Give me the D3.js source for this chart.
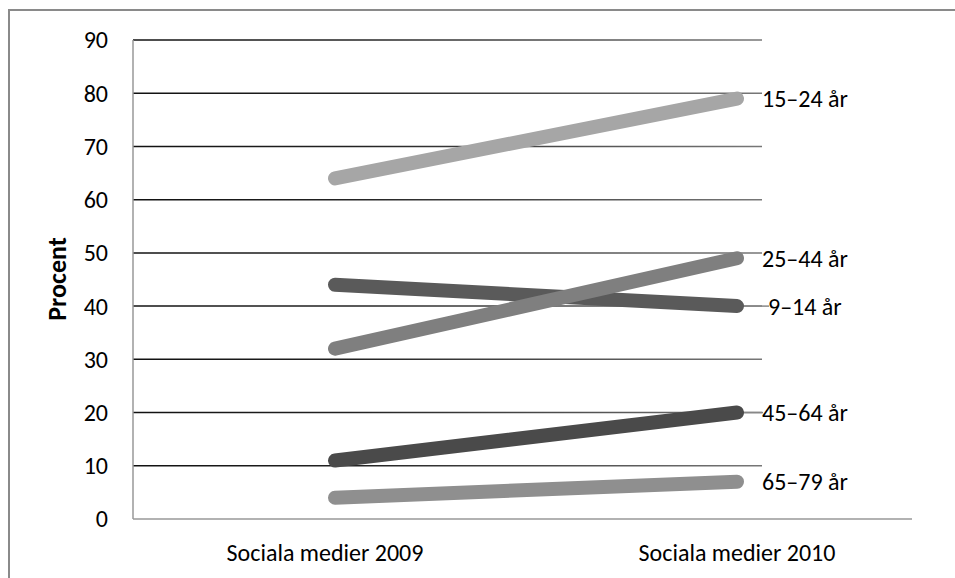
<!DOCTYPE html>
<html><head><meta charset="utf-8">
<script src="https://cdn.jsdelivr.net/npm/d3@7"></script>
<style>body{margin:0;background:#fff;}svg{display:block;font-family:Carlito,Lato,"Liberation Sans",sans-serif;}</style>
</head><body>
<svg id="c" width="955" height="578"></svg>
<script>
const categories = ["Sociala medier 2009", "Sociala medier 2010"];
const seriesNames = ["9–14 år", "15–24 år", "25–44 år", "45–64 år", "65–79 år"];
const values9_14 = [44, 40];
const values15_24 = [64, 79];
const values25_44 = [32, 49];
const values45_64 = [11, 20];
const values65_79 = [4, 7];
const seriesColors = ["#5a5a5a", "#a6a6a6", "#7f7f7f", "#4a4a4a", "#8f8f8f"];
const yTicks = [0, 10, 20, 30, 40, 50, 60, 70, 80, 90];
const yTitle = "Procent";

const series = [
  {name: seriesNames[0], v: values9_14, c: seriesColors[0], leader: true, dx: 31},
  {name: seriesNames[1], v: values15_24, c: seriesColors[1], leader: false, dx: 25},
  {name: seriesNames[3], v: values45_64, c: seriesColors[3], leader: true, dx: 25},
  {name: seriesNames[4], v: values65_79, c: seriesColors[4], leader: false, dx: 25},
  {name: seriesNames[2], v: values25_44, c: seriesColors[2], leader: false, dx: 25}
];

const svg = d3.select("#c");
const left = 133, gridRight = 762, axisRight = 912;
const y = d3.scaleLinear().domain([0, 90]).range([519, 40]);
const x = d3.scalePoint().domain(categories).range([335, 737]);
const fs = 24;

// outer border
svg.append("path").attr("d", "M9,600 V10 H960").attr("fill", "none")
  .attr("stroke", "#8a8a8a").attr("stroke-width", 2);

const defs = svg.append("defs");
const grad = defs.append("linearGradient").attr("id", "gg")
  .attr("gradientUnits", "userSpaceOnUse").attr("x1", left).attr("x2", gridRight).attr("y1", 0).attr("y2", 0);
grad.append("stop").attr("offset", "0").attr("stop-color", "#111");
grad.append("stop").attr("offset", "0.35").attr("stop-color", "#222");
grad.append("stop").attr("offset", "1").attr("stop-color", "#777");

// gridlines
svg.append("g").selectAll("line").data(yTicks.filter(d => d > 0)).join("line")
  .attr("x1", left).attr("x2", gridRight)
  .attr("y1", d => y(d)).attr("y2", d => y(d))
  .attr("stroke", "url(#gg)").attr("stroke-width", 1.5);

// axes lines
svg.append("line").attr("x1", left).attr("x2", axisRight).attr("y1", y(0)).attr("y2", y(0))
  .attr("stroke", "#999").attr("stroke-width", 1.5);
svg.append("line").attr("x1", left).attr("x2", left).attr("y1", y(90)).attr("y2", y(0))
  .attr("stroke", "#999").attr("stroke-width", 1.5);

// y tick labels
svg.append("g").selectAll("text").data(yTicks).join("text")
  .attr("x", 108).attr("y", d => y(d)).attr("dy", "0.35em")
  .attr("text-anchor", "end").attr("font-size", fs).attr("fill", "#000")
  .text(d => d);

// y title
svg.append("text").attr("transform", "translate(66,279) rotate(-90)")
  .attr("text-anchor", "middle").attr("font-size", 26).attr("font-weight", "bold")
  .text(yTitle);

// x labels
svg.append("g").selectAll("text").data(categories).join("text")
  .attr("x", (d, i) => x(d) + (i === 0 ? -10 : 0)).attr("y", 553).attr("dy", "0.35em")
  .attr("text-anchor", "middle").attr("font-size", fs).text(d => d);

// leader lines
const last = categories[categories.length - 1];
svg.append("g").selectAll("line").data(series.filter(s => s.leader)).join("line")
  .attr("x1", x(last) + 5).attr("x2", d => x(last) + d.dx + 1)
  .attr("y1", d => y(d.v[1])).attr("y2", d => y(d.v[1]))
  .attr("stroke", "#888").attr("stroke-width", 1.5);

// lines
const line = d3.line().x((d, i) => x(categories[i])).y(d => y(d));
svg.append("g").selectAll("path").data(series).join("path")
  .attr("d", d => line(d.v)).attr("fill", "none")
  .attr("stroke", d => d.c).attr("stroke-width", 14).attr("stroke-linecap", "round");

// data labels
svg.append("g").selectAll("text").data(series).join("text")
  .attr("x", d => x(last) + d.dx).attr("y", d => y(d.v[1])).attr("dy", "0.35em")
  .attr("font-size", fs).text(d => d.name);
</script>
</body></html>
